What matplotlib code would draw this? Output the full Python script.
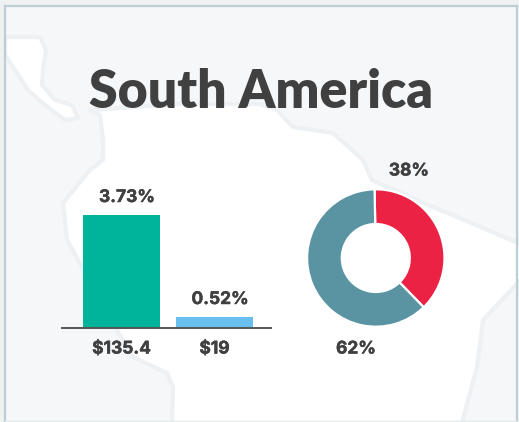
import matplotlib
matplotlib.use("Agg")
import matplotlib.pyplot as plt
import matplotlib.patheffects as pe
from matplotlib.patches import Polygon, Rectangle

W, H = 519, 422
title = "South America"
bar_tick_labels = ["$135.4", "$19"]
bar_pct_labels = ["3.73%", "0.52%"]
bar_heights = [113, 11]   # drawn bar lengths
bar_colors = ["#00B39B", "#68BFEE"]
donut_values = [38, 62]
donut_labels = ["38%", "62%"]
donut_colors = ["#EC2245", "#5A94A3"]

TEXT = "#404040"
OCEAN = "#F5F7F9"
HALO = "#EDF1F3"
FRAME = "#BCCFD6"
LABEL = dict(fontsize=12.5, fontweight="bold", family="Inter", color=TEXT,
             path_effects=[pe.withStroke(linewidth=0.35, foreground=TEXT)])

# decorative map backdrop, in pixel coordinates
land_central = [(5, 37), (40, 37), (46, 50), (43, 70), (42, 85), (55, 100), (72, 105),
                (78, 118), (65, 120), (45, 105), (28, 90), (15, 70), (5, 55)]
land_south = [(90, 110), (100, 115), (103, 140), (103, 160), (90, 170), (63, 203), (67, 240),
              (117, 330), (133, 357), (167, 373), (173, 387), (172, 430), (460, 430),
              (477, 367), (483, 320), (525, 275), (525, 246), (457, 217), (423, 203),
              (372, 180), (363, 160), (333, 133), (293, 127), (277, 110), (260, 104),
              (180, 104), (120, 108)]

fig = plt.figure(figsize=(W / 100, H / 100), dpi=100, facecolor="#EFF1F2")

bg = fig.add_axes([0, 0, 1, 1])
bg.set_xlim(0, W)
bg.set_ylim(H, 0)
bg.axis("off")
bg.add_patch(Rectangle((4.5, 5.5), 512.5, 415, fc=OCEAN, ec="none", zorder=1))
for pts in (land_central, land_south):
    bg.add_patch(Polygon(pts, closed=True, fc="white", ec=HALO, lw=3.0, joinstyle="round", zorder=2))
bg.plot([4.5, 4.5], [5.5, 422], color=FRAME, lw=1.6, zorder=4)
bg.plot([4.5, 517], [5.5, 5.5], color=FRAME, lw=1.6, zorder=4)
bg.plot([517, 517], [5.5, 422], color=FRAME, lw=1.6, zorder=4)
bg.plot([4.5, 517], [420.5, 420.5], color="#E4E9EA", lw=1.0, zorder=4)
bg.text(261, 92, title, ha="center", va="center", fontsize=37.3, fontweight="heavy",
        family="Lato", color=TEXT, zorder=5)

# bar chart: axes spans x 62..271 px, y 200..328 px
left, right, top, base = 62, 271, 200, 328
ax = fig.add_axes([left / W, 1 - base / H, (right - left) / W, (base - top) / H])
ax.patch.set_alpha(0)
ax.set_xlim(left, right)
ax.set_ylim(0, base - top)
ax.bar([121.5, 214.5], bar_heights, width=77, color=bar_colors)
for s in ("top", "left", "right"):
    ax.spines[s].set_visible(False)
ax.spines["bottom"].set_color("#555555")
ax.spines["bottom"].set_linewidth(1.4)
ax.set_yticks([])
ax.set_xticks([121.5, 214.5])
ax.set_xticklabels(bar_tick_labels, **LABEL)
ax.tick_params(axis="x", length=0, pad=9)
for x, h, lab in zip([127, 220], bar_heights, bar_pct_labels):
    ax.text(x, h + 17.5, lab, ha="center", va="center", **LABEL)

# donut: centre (375.8, 258), outer radius 68.7
cx, cy, R = 375.8, 258, 68.7
dax = fig.add_axes([(cx - R) / W, 1 - (cy + R) / H, 2 * R / W, 2 * R / H])
dax.pie(donut_values, colors=donut_colors, startangle=91, counterclock=False, radius=1,
        wedgeprops=dict(width=0.505, edgecolor="white", linewidth=1.6))
dax.set_xlim(-1, 1)
dax.set_ylim(-1, 1)
bg.text(409, 171, donut_labels[0], ha="center", va="center", zorder=5, **LABEL)
bg.text(356, 349, donut_labels[1], ha="center", va="center", zorder=5, **LABEL)

fig.savefig("out.png", dpi=100, facecolor=fig.get_facecolor())
